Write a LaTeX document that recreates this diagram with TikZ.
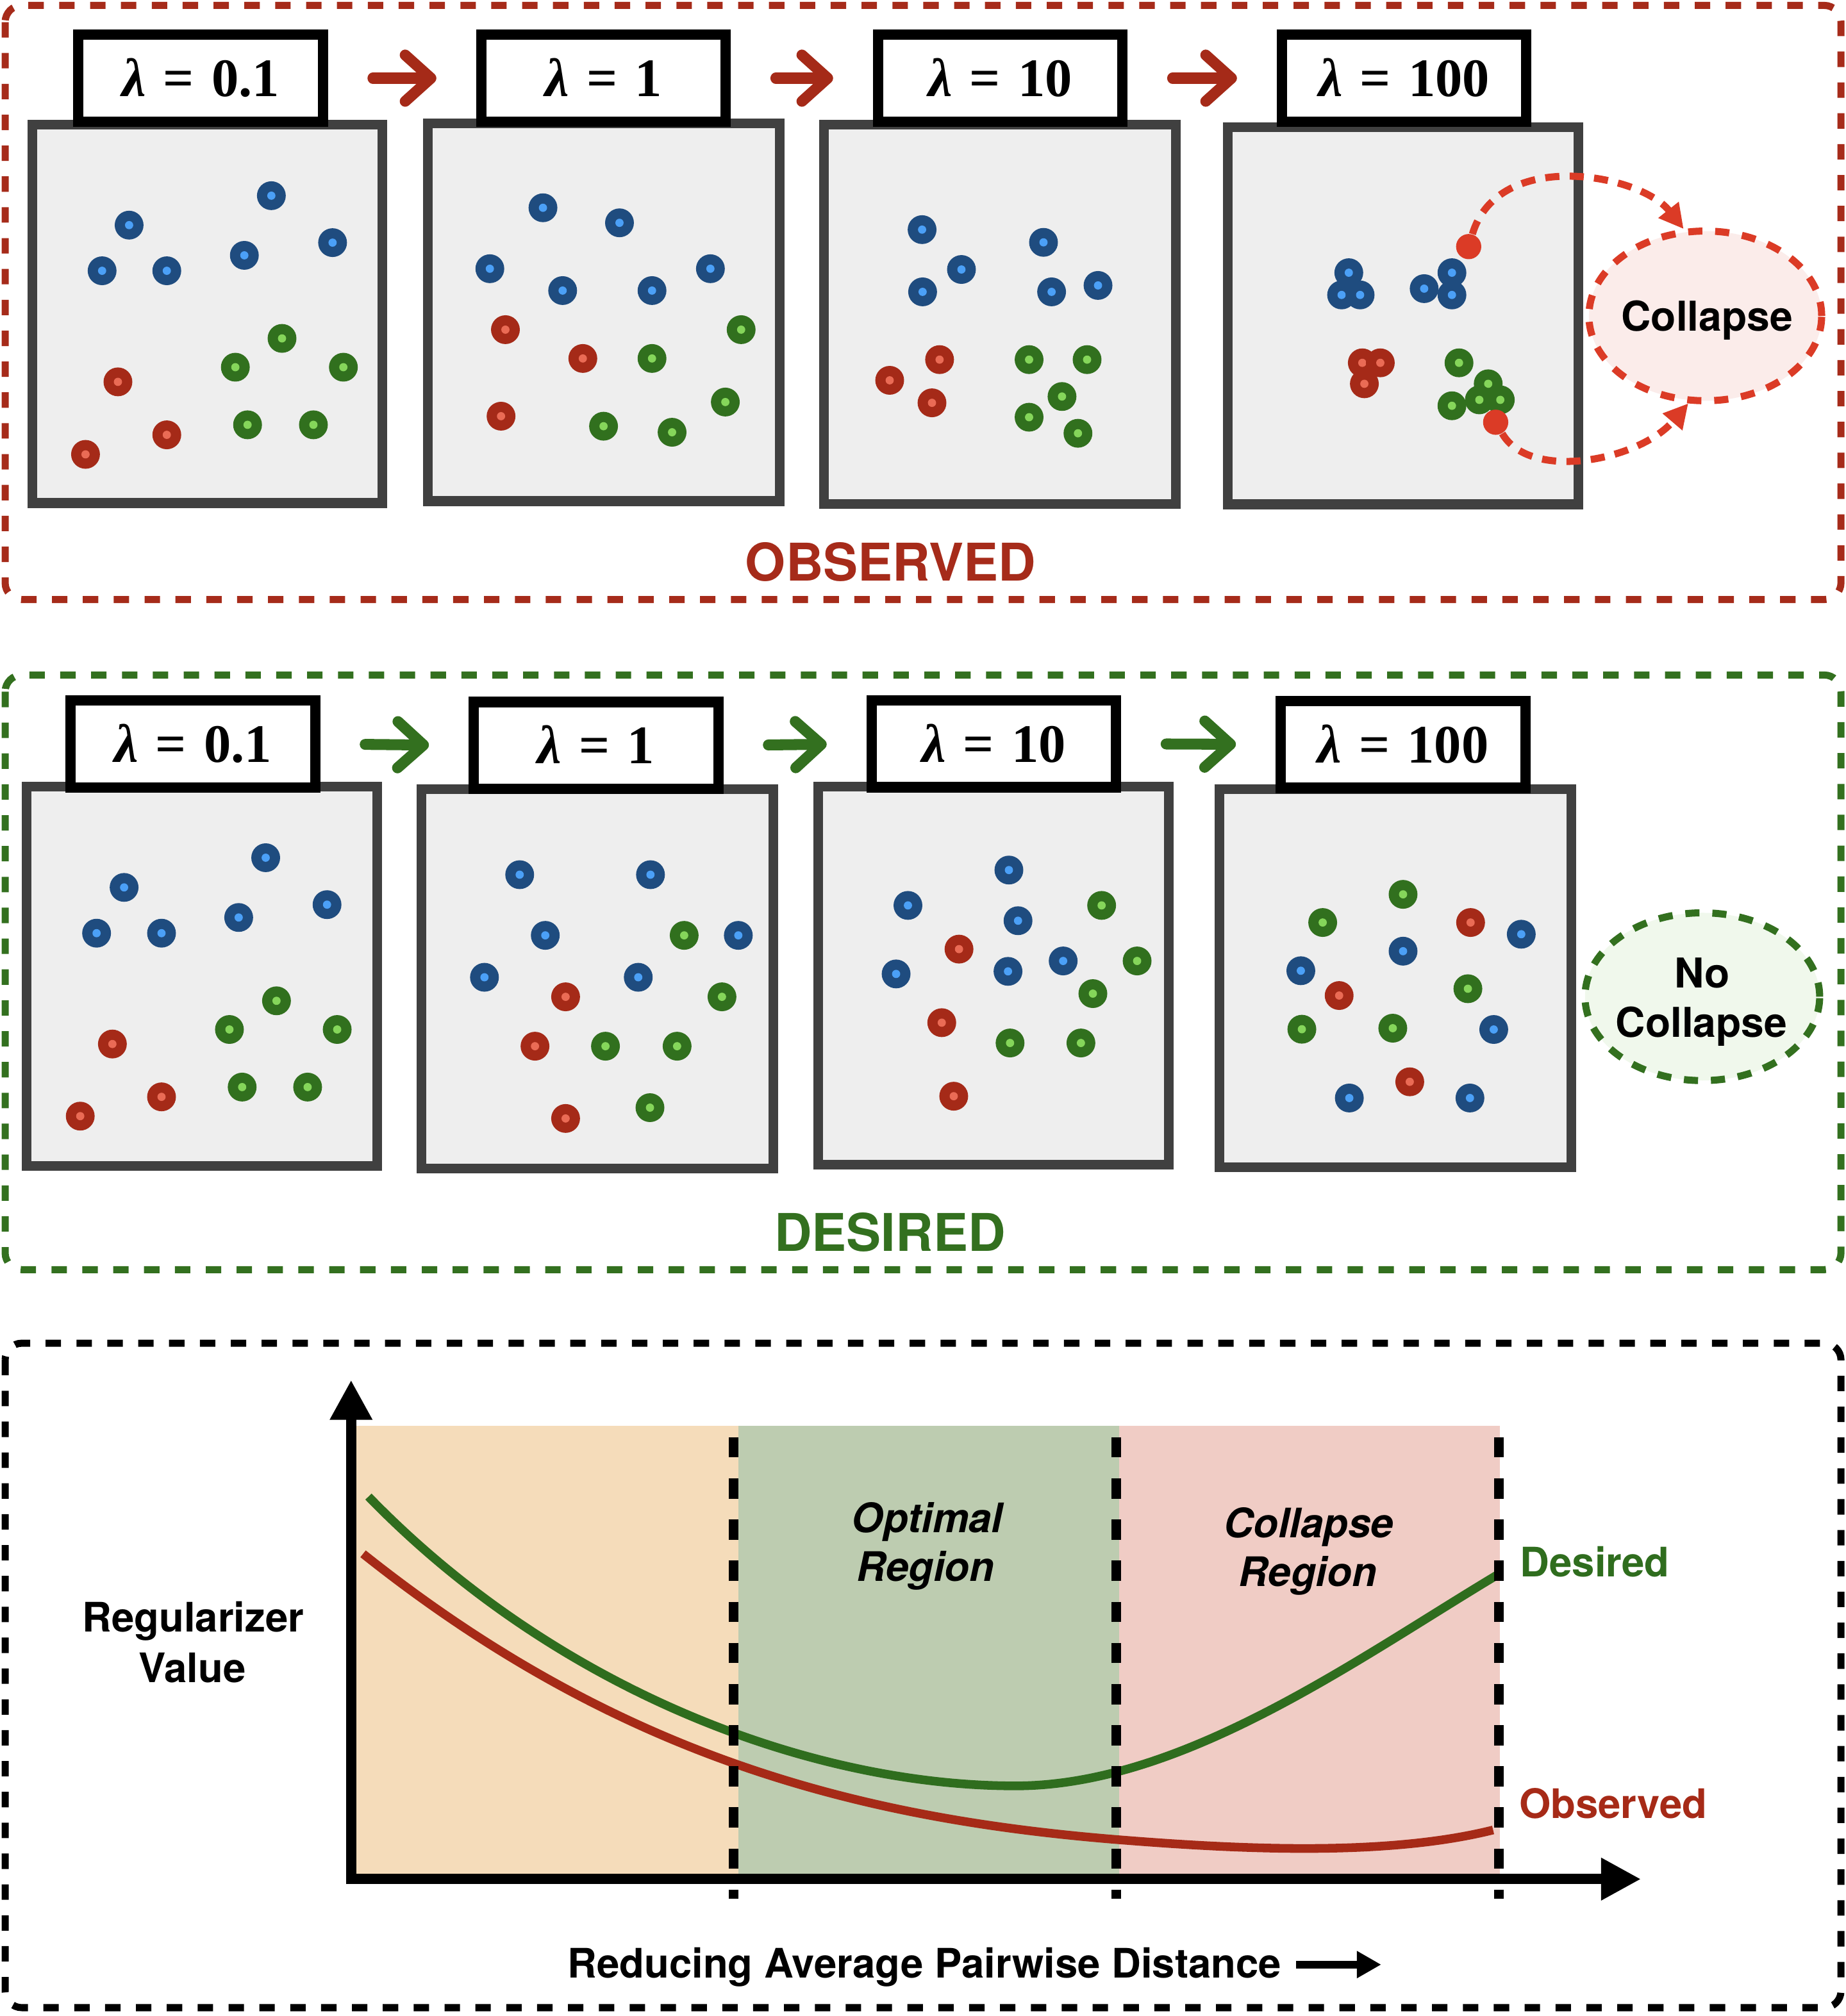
\documentclass[tikz,border=0pt]{standalone}
\usepackage{fontspec}
\setmainfont{TeX Gyre Heros}
\newfontfamily\lamfont{Liberation Serif}
\usetikzlibrary{arrows.meta,shapes.geometric}

\definecolor{framered}{HTML}{A62B1A}
\definecolor{framegreen}{HTML}{33701F}
\definecolor{panelgray}{HTML}{EEEEEE}
\definecolor{paneledge}{HTML}{404040}
\definecolor{bluedark}{HTML}{1F4C7F}
\definecolor{bluelight}{HTML}{4BA0F7}
\definecolor{reddark}{HTML}{A52A18}
\definecolor{redlight}{HTML}{EA6B55}
\definecolor{greendark}{HTML}{31701E}
\definecolor{greenlight}{HTML}{85D65A}
\definecolor{brightred}{HTML}{DB3B26}
\definecolor{collapsefill}{HTML}{FBECEA}
\definecolor{nocollapsefill}{HTML}{F0F8EC}
\definecolor{regorange}{HTML}{F5DCBA}
\definecolor{reggreen}{HTML}{BDCCB0}
\definecolor{regpink}{HTML}{F0CCC5}
\definecolor{curvegreen}{HTML}{2F6D1E}
\definecolor{curvered}{HTML}{A62A17}

\newcommand\lamtxt[1]{{\itshape λ}\hspace{0.32em}=\hspace{0.32em}#1}
\newcommand\dotsof[3]{\foreach \px/\py in {#3} {\fill[#1] (\px,\py) circle[radius=0.224cm]; \fill[#2] (\px,\py) circle[radius=0.064cm];}}

\tikzset{
  frame/.style={line width=0.11cm, dash pattern=on 0.24cm off 0.24cm, rounded corners=0.26cm},
  panelbox/.style={fill=panelgray, draw=paneledge, line width=0.15cm},
  lambox/.style={draw=black, fill=white, line width=0.16cm, minimum width=3.8cm, minimum height=1.352cm, inner sep=0pt,
     font=\lamfont\bfseries\fontsize{24}{28}\selectfont, text height=16.2pt, text depth=0pt},
  flowarrow/.style={line width=0.17cm, line cap=round, -{Straight Barb[length=0.4cm,width=0.72cm,round]}, shorten <=0.7cm, shorten >=0.62cm},
  bigtitle/.style={font=\bfseries\fontsize{23}{27}\selectfont, anchor=base, inner sep=0pt},
  ovaltext/.style={font=\bfseries\fontsize{18.2}{22}\selectfont, anchor=base, inner sep=0pt},
  charttext/.style={font=\bfseries\fontsize{18}{22}\selectfont, inner sep=0pt, anchor=base},
  oval/.style={ellipse, line width=0.11cm, dash pattern=on 0.22cm off 0.2cm, inner sep=0pt},
  collapsearrow/.style={draw=brightred, line width=0.11cm, dash pattern=on 0.22cm off 0.16cm, -{Triangle[length=0.38cm,width=0.38cm]}},
  marker/.style={circle, fill=brightred, inner sep=0pt, minimum size=0.392cm},
  regline/.style={line width=0.152cm, dash pattern=on 0.316cm off 0.324cm},
  axis/.style={line width=0.16cm, -{Triangle[length=0.62cm,width=0.62cm]}},
  curve/.style={line width=0.135cm},
}

\begin{document}
\begin{tikzpicture}[x=0.02cm, y=-0.02cm]
\fill[white] (0,0) rectangle (1435.4,1568);
\useasboundingbox (0,0) rectangle (1435.4,1568);

% ---------- frames ----------
\draw[frame, draw=framered] (4,4.2) rectangle (1431.5,466.3);
\draw[frame, draw=framegreen] (4,525) rectangle (1431.5,987.5);
\draw[frame, draw=black] (4,1044.7) rectangle (1431.5,1561.5);

% ---------- top row panels ----------
\draw[panelbox] (25.25,96.75) rectangle (297.25,391.25);
\draw[panelbox] (332.75,95.75) rectangle (606.25,389.75);
\draw[panelbox] (640.75,96.75) rectangle (914.25,391.85);
\draw[panelbox] (954.75,98.75) rectangle (1227.25,392.25);

\dotsof{bluedark}{bluelight}{100.4/175.1, 79.4/210.6, 129.7/210.6, 211/152.2, 190/198.6, 258.6/188.7}
\dotsof{reddark}{redlight}{91.7/297, 129.7/338.2, 66.5/353.4}
\dotsof{greendark}{greenlight}{219.3/263.2, 183/285.6, 267/285.6, 192.5/330.4, 243.7/330.4}

\dotsof{bluedark}{bluelight}{422.2/161.6, 481.7/173.3, 380.9/209, 437.5/226, 507/226, 552.4/209}
\dotsof{reddark}{redlight}{393/256.4, 453.2/278.8, 389.6/323.7}
\dotsof{greendark}{greenlight}{576.3/256.4, 507/278.8, 564/312.7, 469.3/331.5, 522.6/336.2}

\dotsof{bluedark}{bluelight}{717/178.6, 747.6/209.6, 717.4/227, 811.4/188.5, 817.7/227, 853.8/222}
\dotsof{reddark}{redlight}{730.6/279.7, 691.8/295.8, 724.7/313.3}
\dotsof{greendark}{greenlight}{800.2/279.7, 845.3/279.7, 825.8/308.4, 800.2/324.5, 838.2/337}

\dotsof{bluedark}{bluelight}{1048.8/212.1, 1043.2/229.4, 1057.6/229.4, 1107.4/224.5, 1129/212.1, 1129/229.4}
\dotsof{reddark}{redlight}{1059.3/282.2, 1073.3/282.2, 1060.9/298.5}
\dotsof{greendark}{greenlight}{1134.5/282.2, 1157.2/298.5, 1150.3/311, 1166.6/311, 1129/315.6}

% labels top
\node[lambox] (L1) at (156,60.8) {\lamtxt{0.1}};
\node[lambox] (L2) at (469.3,60.8) {\lamtxt{1}};
\node[lambox] (L3) at (777.8,60.8) {\lamtxt{10}};
\node[lambox] (L4) at (1091.8,60.8) {\lamtxt{100}};
\draw[flowarrow, draw=reddark] (L1.east) -- (L2.west);
\draw[flowarrow, draw=reddark] (L2.east) -- (L3.west);
\draw[flowarrow, draw=reddark] (L3.east) -- (L4.west);

% collapse
\node[oval, draw=brightred, fill=collapsefill, minimum width=3.62cm, minimum height=2.64cm] (coll) at (1326,245.7) {};
\node[ovaltext] (colltxt) at (1327.4,257.6) {Collapse};
\node[marker] (mk1) at (1142,191.8) {};
\node[marker] (mk2) at (1163,328.4) {};
\draw[collapsearrow] (mk1) .. controls (1165,115) and (1275,135) .. (coll.104);
\draw[collapsearrow] (mk2) .. controls (1190,375) and (1275,358) .. (coll.259);

\node[bigtitle, text=framered] (obs) at (692.5,451.7) {OBSERVED};

% ---------- bottom row panels ----------
\draw[panelbox] (20.85,611.65) rectangle (293.45,907.05);
\draw[panelbox] (327.55,613.65) rectangle (601.35,908.85);
\draw[panelbox] (636.45,611.65) rectangle (909.05,905.85);
\draw[panelbox] (948.45,613.75) rectangle (1222.05,907.75);

\dotsof{bluedark}{bluelight}{96.5/690.2, 75.1/725.8, 125.6/725.8, 206.6/667.1, 185.6/713.6, 254.3/703.6}
\dotsof{reddark}{redlight}{87.4/812, 125.6/853.1, 62.4/868.1}
\dotsof{greendark}{greenlight}{215/778.4, 178.4/800.7, 262.2/800.7, 188.3/845.5, 239.2/845.5}

\dotsof{bluedark}{bluelight}{404.1/680.3, 505.8/680.3, 424/727.5, 574.1/727.5, 376.7/760.1, 496.3/760.1}
\dotsof{reddark}{redlight}{439.8/775.3, 416/813.7, 439.8/869.9}
\dotsof{greendark}{greenlight}{532/727.5, 561.4/775.3, 470.8/813.7, 526.5/813.7, 505.4/861.5}

\dotsof{bluedark}{bluelight}{784.5/676.7, 706/704.2, 791.6/716.1, 696.8/757.5, 783.8/755.5, 826.7/747.4}
\dotsof{reddark}{redlight}{745.7/738.2, 732.3/795.4, 741.6/852.6}
\dotsof{greendark}{greenlight}{856.6/704.2, 884.2/747.4, 849.8/772.8, 785.4/811.2, 840.5/811.2}

\dotsof{greendark}{greenlight}{1091/695.6, 1028.5/717.5, 1141.4/769, 1012.3/800.5, 1083/799.7}
\dotsof{reddark}{redlight}{1143.5/717.5, 1041.3/774.3, 1096.2/841.4}
\dotsof{bluedark}{bluelight}{1182.9/726.6, 1091/739.8, 1011.5/755, 1161.5/800.7, 1049.2/854, 1143/854}

\node[lambox] (B1) at (150,578.6) {\lamtxt{0.1}};
\node[lambox] (B2) at (463.5,579.8) {\lamtxt{1}};
\node[lambox] (B3) at (772.8,578.5) {\lamtxt{10}};
\node[lambox] (B4) at (1091,579) {\lamtxt{100}};
\draw[flowarrow, draw=framegreen] (B1.east) -- (B2.west);
\draw[flowarrow, draw=framegreen] (B2.east) -- (B3.west);
\draw[flowarrow, draw=framegreen] (B3.east) -- (B4.west);

\node[oval, draw=framegreen, fill=nocollapsefill, minimum width=3.65cm, minimum height=2.61cm] (nocoll) at (1323.7,775.2) {};
\node[ovaltext] (nocolltxta) at (1323.5,768.2) {No};
\node[ovaltext] (nocolltxtb) at (1323,806.8) {Collapse};

\node[bigtitle, text=framegreen] (des) at (692,973) {DESIRED};

% ---------- chart ----------
\fill[regorange] (277,1108.9) rectangle (574,1461.5);
\fill[reggreen] (574,1108.9) rectangle (870,1461.5);
\fill[regpink] (870,1108.9) rectangle (1166.5,1461.5);

\draw[curve, draw=curvegreen] (286.5,1164) .. controls (432,1314) and (629.6,1389) .. (789.6,1389)
   .. controls (919.6,1389) and (1054.1,1291) .. (1164.1,1225);
\draw[curve, draw=curvered] (282.3,1208.5) .. controls (482.3,1368) and (671.2,1415) .. (871.2,1431)
   .. controls (971.2,1439) and (1081,1443.3) .. (1161,1423.3);

\foreach \vx in {570.5,868,1165.5} \draw[regline] (\vx,1117.8) -- (\vx,1477);

\coordinate (origin) at (273,1465.5);
\coordinate (ytip) at (273,1073.3);
\coordinate (xstart) at (269,1461.5);
\coordinate (xtip) at (1276,1461.5);
\draw[axis] (origin) -- (ytip);
\draw[axis] (xstart) -- (xtip);

\node[charttext] (opt1) at (721,1192) {\itshape Optimal};
\node[charttext] (opt2) at (719.6,1230) {\itshape Region};
\node[charttext] (col1) at (1017.6,1195.8) {\itshape Collapse};
\node[charttext] (col2) at (1017,1234) {\itshape Region};
\node[charttext, anchor=base west, text=curvegreen] (deslab) at (1181.7,1226.2) {Desired};
\node[charttext, anchor=base west, text=curvered] (obslab) at (1181,1414.2) {Observed};
\node[charttext] (reg1) at (150.2,1269) {Regularizer};
\node[charttext] (reg2) at (149.6,1308.4) {Value};
\node[charttext, anchor=base west] (dist) at (441,1538.2) {Reducing Average Pairwise Distance};
\coordinate (dA) at (1008,1528);
\coordinate (dB) at (1074,1528);
\draw[line width=0.116cm, -{Triangle[length=0.38cm,width=0.4cm]}] (dA) -- (dB);
\end{tikzpicture}
\end{document}
